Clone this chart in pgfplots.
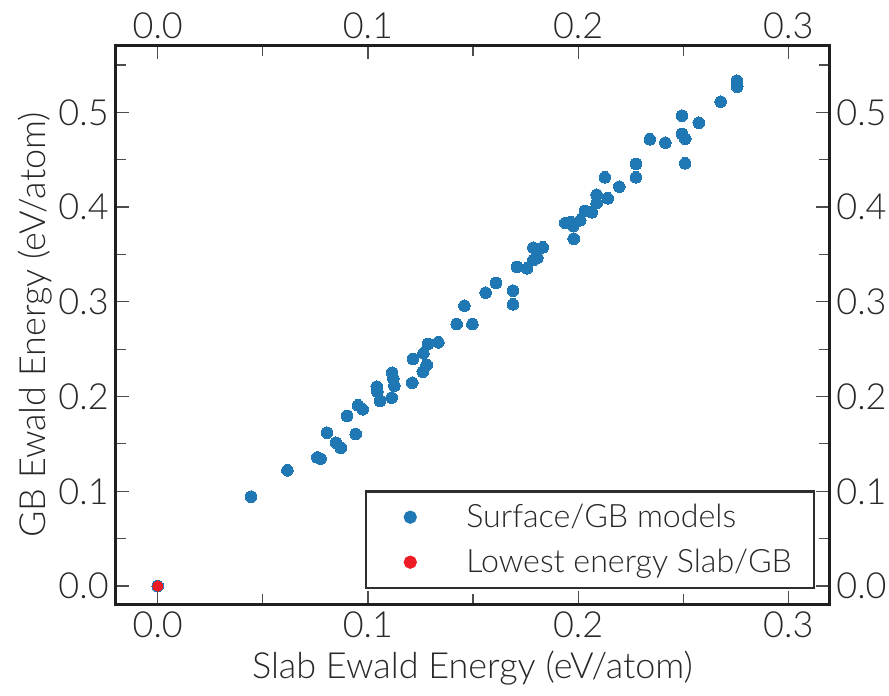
\documentclass[border=0pt]{standalone}
\usepackage{pgfplots}
\pgfplotsset{compat=1.18}
\usepackage{fontspec}
\setmainfont{Lato Light}
\definecolor{ptblue}{RGB}{31,119,180}
\definecolor{ptred}{RGB}{237,28,36}
\definecolor{txt}{RGB}{40,40,40}
\pgfplotsset{
  common/.style={
    scale only axis, width=356.8pt, height=279.3pt,
    xmin=-0.02, xmax=0.3195, ymin=-0.0193, ymax=0.5703,
    xtick={0,0.1,0.2,0.3}, minor xtick={0.05,0.15,0.25},
    ytick={0,0.1,0.2,0.3,0.4,0.5}, minor ytick={0.05,0.15,0.25,0.35,0.45,0.55},
    tick align=inside,
    major tick length=6.5pt, minor tick length=5pt,
    every tick/.style={black!70, line width=0.6pt},
    axis line style={black!88, line width=1.5pt},
    /pgf/number format/assume math mode=true,
    /pgf/number format/.cd, fixed, fixed zerofill, precision=1, /pgfplots/.cd,
    tick label style={font=\fontsize{18}{20}\selectfont, text=txt},
  }
}
\begin{document}
\begin{tikzpicture}
\path[use as bounding box] (-57.85pt,-45.85pt) rectangle (386.65pt,302.15pt);
\begin{axis}[common,
  xticklabel pos=lower, yticklabel pos=left,
  xlabel={Slab Ewald Energy (eV/atom)},
  ylabel={GB Ewald Energy (eV/atom)},
  label style={font=\fontsize{18}{20}\selectfont, text=txt},
  xlabel style={at={(axis description cs:0.5,-0.114)}, anchor=center},
  ylabel style={at={(axis description cs:-0.1131,0.5)}, anchor=center},
  legend style={at={(axis description cs:1,0)}, anchor=south east, xshift=-7.15pt, yshift=7.65pt,
    draw=black!82, line width=1.1pt, fill=white,
    inner xsep=11pt, inner ysep=1.6pt, row sep=0pt, column sep=0pt,
    nodes={inner sep=0pt, inner xsep=0pt, text=txt, font=\fontsize{16.1}{20}\selectfont},
    cells={anchor=west}},
]
\addplot[ptblue, only marks, mark=*, mark size=2.9pt, mark options={solid, draw=ptblue, fill=ptblue, line width=0pt},
  legend image code/.code={\path[draw=none,fill=none] (-11pt,-11.25pt) rectangle (28pt,11.25pt); \fill[ptblue] (0pt,0pt) circle (2.75pt);}] coordinates {
(0,0)
(0.0444,0.0943)
(0.0617,0.1221)
(0.0759,0.1358)
(0.0775,0.1344)
(0.0805,0.1618)
(0.0848,0.1513)
(0.0871,0.1457)
(0.0901,0.1794)
(0.0942,0.1604)
(0.0953,0.1907)
(0.0975,0.1865)
(0.1042,0.2104)
(0.1045,0.2051)
(0.1058,0.1953)
(0.1115,0.2251)
(0.1121,0.2192)
(0.1126,0.2114)
(0.1113,0.1988)
(0.1211,0.2146)
(0.1215,0.2396)
(0.1261,0.2262)
(0.1280,0.2333)
(0.1264,0.2456)
(0.1286,0.2554)
(0.1335,0.2572)
(0.1422,0.2765)
(0.1497,0.2765)
(0.1459,0.2959)
(0.1560,0.3096)
(0.1609,0.3198)
(0.1690,0.3117)
(0.1690,0.2973)
(0.1709,0.3367)
(0.1757,0.3353)
(0.1787,0.3571)
(0.1832,0.3575)
(0.1806,0.3465)
(0.1787,0.3441)
(0.1939,0.3832)
(0.1965,0.3839)
(0.1977,0.3800)
(0.1979,0.3666)
(0.2010,0.3860)
(0.2033,0.3958)
(0.2065,0.3944)
(0.2088,0.4040)
(0.2088,0.4130)
(0.2141,0.4092)
(0.2127,0.4314)
(0.2196,0.4215)
(0.2275,0.4314)
(0.2275,0.4454)
(0.2341,0.4715)
(0.2415,0.4679)
(0.2494,0.4964)
(0.2494,0.4771)
(0.2510,0.4721)
(0.2509,0.4462)
(0.2574,0.4890)
(0.2678,0.5112)
(0.2755,0.5334)
(0.2757,0.5270)
};
\addlegendentry{Surface/GB models}
\addplot[ptred, only marks, mark=*, mark size=2.55pt, mark options={solid, draw=ptred, fill=ptred, line width=0pt},
  legend image code/.code={\path[draw=none,fill=none] (-11pt,-11.25pt) rectangle (28pt,11.25pt); \fill[ptred] (0pt,0pt) circle (2.75pt);}] coordinates {(0,0)};
\addlegendentry{Lowest energy Slab/GB}
\end{axis}
\begin{axis}[common, xticklabel pos=upper, yticklabel pos=right]
\end{axis}
\end{tikzpicture}
\end{document}
